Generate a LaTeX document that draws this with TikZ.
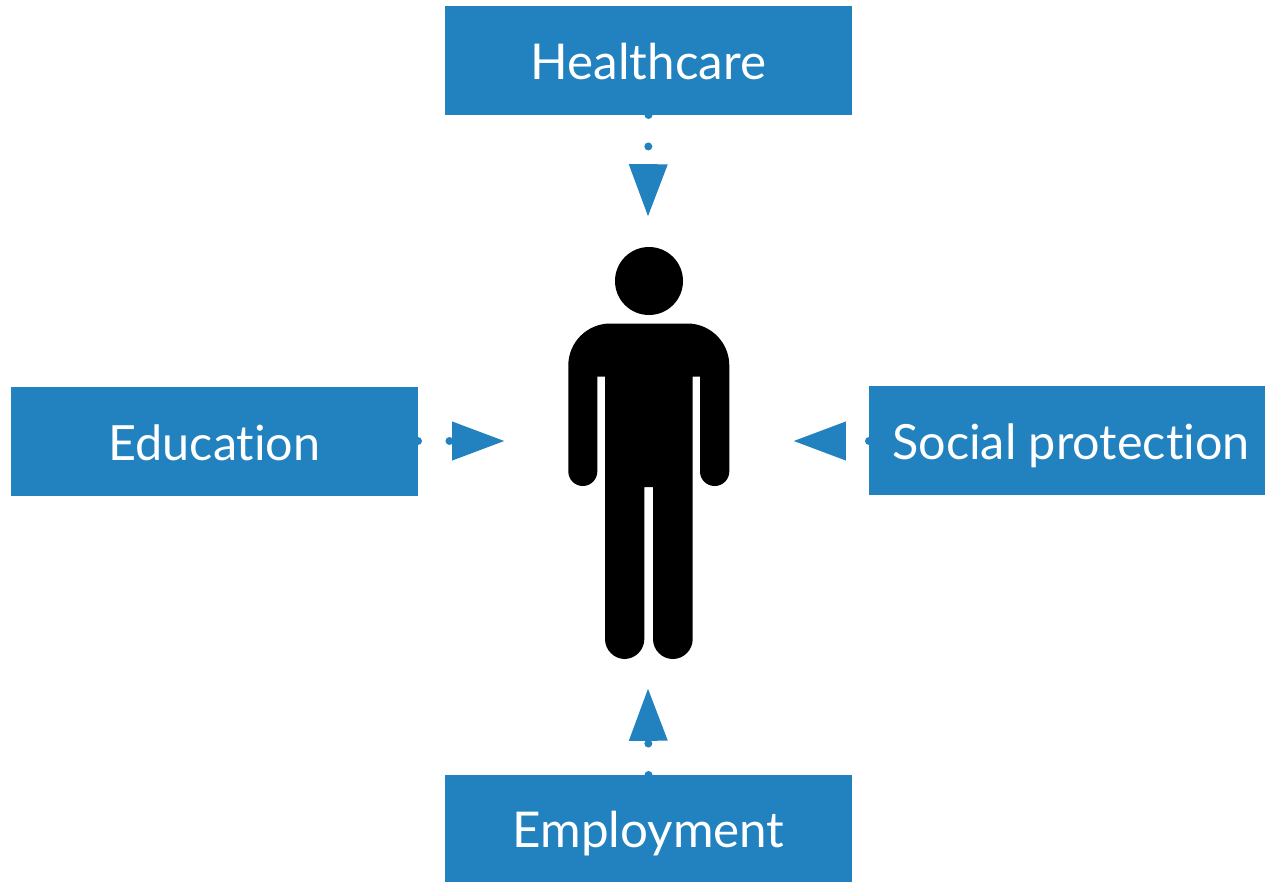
\documentclass[tikz,border=0pt]{standalone}
\usepackage{fontspec}
\setmainfont[Ligatures=NoCommon]{Lato}
\usetikzlibrary{arrows.meta}
\definecolor{boxblue}{HTML}{2282BF}
\tikzset{
    themebox/.style={anchor=north west, rectangle, inner sep=0pt, outer sep=0pt, fill=boxblue, text=white, text height=28.5pt, text depth=0pt, font=\fontsize{37}{44}\selectfont},
    smalltheme/.style={themebox, font=\fontsize{36.4}{44}\selectfont},
    dotarrow/.style={draw=boxblue, line width=6pt, line cap=round, dash pattern=on 0pt off 23.6pt, -{Triangle[length=39.6pt, width=27.5pt, fill=boxblue]}},
}
\begin{document}
\begin{tikzpicture}[x=.75pt, y=-.75pt]
            \useasboundingbox (0, 0) rectangle (1265, 882);
            \node [themebox, minimum width=305.25pt, minimum height=81.75pt] (healthcare) at (445, 6) {Healthcare};
            \node [smalltheme, minimum width=305.25pt, minimum height=81.75pt] (education) at (11, 387) {Education};
            \node [smalltheme, minimum width=297pt, minimum height=81.75pt] (social) at (869, 386) {\hspace*{6pt}Social protection};
            \node [themebox, minimum width=305.25pt, minimum height=80.25pt] (employment) at (445, 775) {Employment};
            \coordinate (topin) at (648, 217);
            \coordinate (leftin) at (505, 441);
            \coordinate (rightin) at (793, 441);
            \coordinate (bottomin) at (648, 688);
            \draw [dotarrow] (healthcare.south) -- (topin);
            \draw [dotarrow] (education.east |- leftin) -- (leftin);
            \draw [dotarrow] (social.west |- rightin) -- (rightin);
            \draw [dotarrow] (employment.north) -- (bottomin);
            \fill (649, 281) circle [radius=25.5pt];
            \fill (649, 323.5) [rounded corners=31.5pt] -- (729.3, 323.5) [rounded corners=10.9pt] -- (729.3, 486) -- (700, 486) [sharp corners] -- (700, 376.7) -- (692.7, 376.7) [rounded corners=15pt] -- (692.7, 659) -- (653, 659) [sharp corners] -- (653, 487) -- (644.3, 487) [rounded corners=15pt] -- (644.3, 659) -- (605, 659) [sharp corners] -- (605, 376.7) -- (597.3, 376.7) [rounded corners=10.9pt] -- (597.3, 486) -- (568.3, 486) [rounded corners=31.5pt] -- (568.3, 323.5) [sharp corners] -- cycle;
        \end{tikzpicture}
\end{document}
